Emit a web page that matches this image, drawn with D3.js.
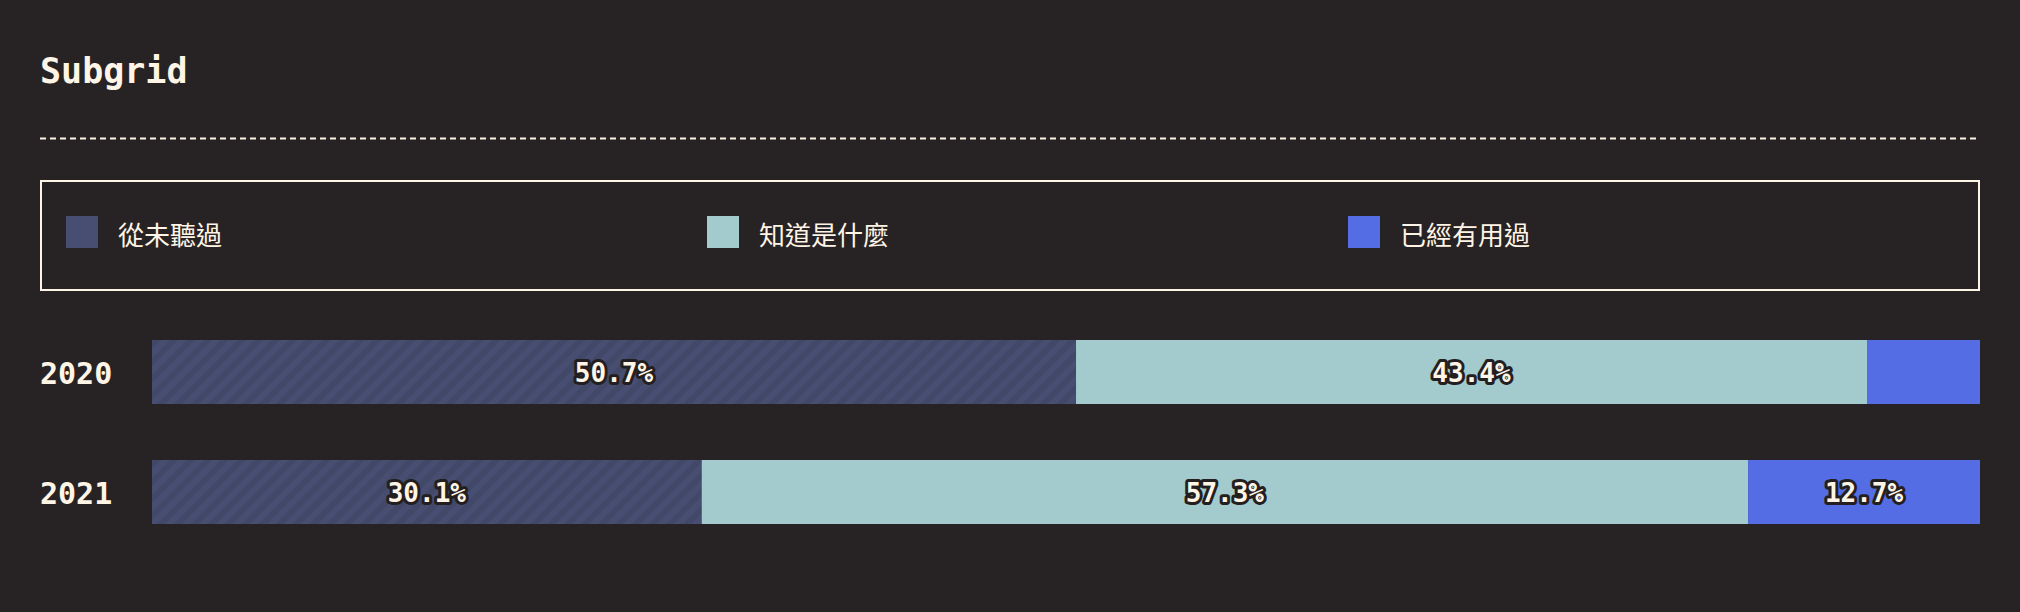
<!DOCTYPE html>
<html>
<head>
<meta charset="utf-8">
<script src="https://cdn.jsdelivr.net/npm/d3@7"></script>
<style>
  html, body { margin: 0; padding: 0; background: #272324; }
  svg { display: block; }
</style>
</head>
<body>
<svg id="chart" width="2020" height="612"></svg>
<script>
const title = "Subgrid";
const years = ["2020", "2021"];
const seriesNames = ["從未聽過", "知道是什麼", "已經有用過"];
const neverHeard = [50.7, 30.1];
const knowWhat = [43.4, 57.3];
const used = [6.2, 12.7];

const colors = ["#474e72", "#a3cacd", "#546de5"];
const cream = "#fff5e6";
const bg = "#272324";

const W = 2020, H = 612;
const svg = d3.select("#chart");
svg.append("rect").attr("width", W).attr("height", H).attr("fill", bg);

const defs = svg.append("defs");
const pat = defs.append("pattern")
  .attr("id", "stripes")
  .attr("patternUnits", "userSpaceOnUse")
  .attr("width", 12).attr("height", 12)
  .attr("patternTransform", "rotate(45)");
pat.append("rect").attr("width", 12).attr("height", 12).attr("fill", colors[0]);
pat.append("rect").attr("width", 6).attr("height", 12).attr("fill", "#424868");

// Title
svg.append("text")
  .attr("x", 40).attr("y", 83)
  .attr("fill", cream)
  .attr("font-family", "'DejaVu Sans Mono', 'Liberation Mono', monospace")
  .attr("font-weight", "bold")
  .attr("font-size", 35)
  .text(title);

// Dashed separator
svg.append("line")
  .attr("x1", 40).attr("x2", 1980)
  .attr("y1", 138.5).attr("y2", 138.5)
  .attr("stroke", cream).attr("stroke-width", 2)
  .attr("stroke-dasharray", "6,4");

// Legend box
svg.append("rect")
  .attr("x", 41).attr("y", 181)
  .attr("width", 1938).attr("height", 109)
  .attr("fill", "none").attr("stroke", cream).attr("stroke-width", 2);

const legendX = d3.scaleBand().domain(seriesNames).range([66, 66 + 641 * 3]);
const lg = svg.append("g").selectAll("g").data(seriesNames).join("g")
  .attr("transform", d => `translate(${legendX(d)},216)`);
lg.append("rect").attr("width", 32).attr("height", 32)
  .attr("fill", (d, i) => colors[i]);
lg.append("text")
  .attr("x", 52).attr("y", 17)
  .attr("dominant-baseline", "central")
  .attr("fill", cream)
  .attr("font-family", "'Noto Sans CJK TC', 'Noto Sans CJK SC', sans-serif")
  .attr("font-size", 26)
  .text(d => d);

// Data stacking (each row normalised to its own total)
const rows = years.map((y, i) => {
  const vals = [neverHeard[i], knowWhat[i], used[i]];
  const total = d3.sum(vals);
  let acc = 0;
  return { year: y, segs: vals.map((v, k) => {
    const s = { key: k, value: v, x0: acc / total, x1: (acc + v) / total };
    acc += v;
    return s;
  })};
});

const x = d3.scaleLinear().domain([0, 1]).range([152, 1980]);
const bandH = 64;
const yPos = d3.scalePoint().domain(years).range([340, 460]);

const rowG = svg.append("g").selectAll("g").data(rows).join("g")
  .attr("transform", d => `translate(0,${yPos(d.year)})`);

rowG.append("text")
  .attr("x", 40).attr("y", bandH / 2 + 1)
  .attr("dominant-baseline", "central")
  .attr("fill", cream)
  .attr("font-family", "'DejaVu Sans Mono', 'Liberation Mono', monospace")
  .attr("font-weight", "bold")
  .attr("font-size", 30)
  .text(d => d.year);

rowG.selectAll("rect.seg").data(d => d.segs).join("rect")
  .attr("class", "seg")
  .attr("x", d => x(d.x0))
  .attr("width", d => x(d.x1) - x(d.x0))
  .attr("y", 0).attr("height", bandH)
  .attr("fill", d => d.key === 0 ? "url(#stripes)" : colors[d.key]);

rowG.selectAll("text.lbl").data(d => d.segs.filter(s => s.value >= 10)).join("text")
  .attr("class", "lbl")
  .attr("x", d => (x(d.x0) + x(d.x1)) / 2)
  .attr("y", bandH / 2 + 1)
  .attr("text-anchor", "middle")
  .attr("dominant-baseline", "central")
  .attr("fill", cream)
  .attr("stroke", "#231f20")
  .attr("stroke-width", 6)
  .attr("stroke-linejoin", "round")
  .attr("paint-order", "stroke")
  .attr("font-family", "'DejaVu Sans Mono', 'Liberation Mono', monospace")
  .attr("font-weight", "bold")
  .attr("font-size", 26)
  .text(d => d.value.toFixed(1) + "%");
</script>
</body>
</html>
